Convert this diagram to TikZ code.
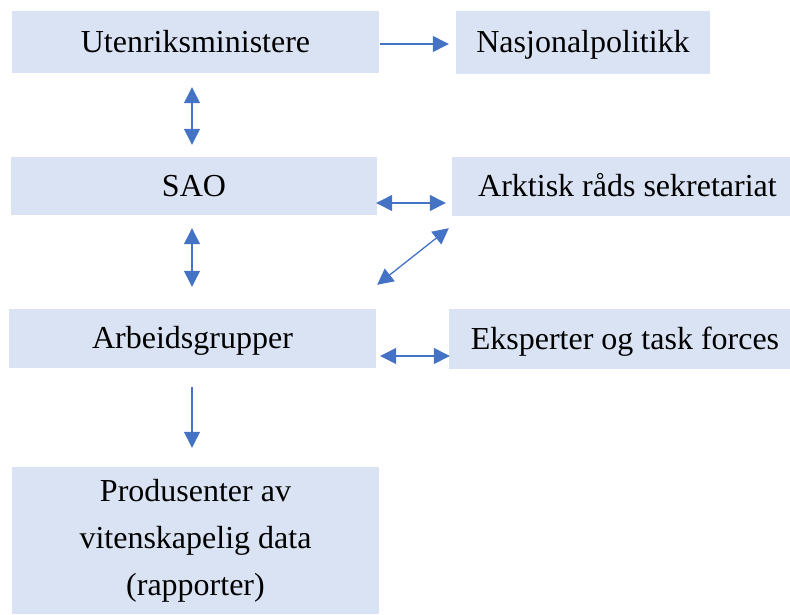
\documentclass[tikz,border=0pt]{standalone}
\usepackage{fontspec}
\setmainfont{Liberation Serif}
\usetikzlibrary{arrows.meta}
\definecolor{boxfill}{HTML}{DAE3F3}
\definecolor{arrowblue}{HTML}{4472C4}
\begin{document}
\begin{tikzpicture}[x=1pt,y=-1pt,
  box/.style={fill=boxfill,draw=none,inner sep=0pt,font=\fontsize{32}{47}\selectfont,text height=22pt,text depth=2pt},
  tallbox/.style={fill=boxfill,draw=none,inner sep=0pt,font=\fontsize{32}{47}\selectfont,align=center},
  conn/.style={draw=arrowblue,line width=1.3pt},
  dbl/.style={conn,{Triangle[length=16pt,width=16pt]}-{Triangle[length=16pt,width=16pt]}},
  sgl/.style={conn,-{Triangle[length=16pt,width=16pt]}}]
\useasboundingbox (0,0) rectangle (790,614);
\clip (0,0) rectangle (790,614);
\node[box,minimum width=367pt,minimum height=62pt] (ut) at (195.5,42) {Utenriksministere};
\node[box,minimum width=254pt,minimum height=63pt] (nas) at (583,42.5) {Nasjonalpolitikk};
\node[box,minimum width=366pt,minimum height=58pt] (sao) at (194,186) {SAO};
\node[box,minimum width=351pt,minimum height=59pt] (ark) at (627.5,186.5) {Arktisk råds sekretariat};
\node[box,minimum width=367pt,minimum height=59pt] (arb) at (192.5,338.5) {Arbeidsgrupper};
\node[box,minimum width=352pt,minimum height=60pt] (eks) at (625,339) {Eksperter og task forces};
\node[tallbox,minimum width=367pt,minimum height=147pt] (prod) at (195.5,540.5) {Produsenter av\\vitenskapelig data\\(rapporter)};
\draw[sgl] ([xshift=1pt,yshift=-2pt]ut.east) -- ([xshift=-7pt,yshift=-1.5pt]nas.west);
\draw[dbl] ([xshift=-3.5pt,yshift=-14pt]ut.south) -- ([xshift=-2pt,yshift=12pt]sao.north);
\draw[dbl] ([xshift=-1pt,yshift=-17pt]sao.east) -- ([xshift=-6pt,yshift=-16.5pt]ark.west);
\draw[dbl] ([xshift=1pt,yshift=24pt]arb.north east) -- ([xshift=-3pt,yshift=-12pt]ark.south west);
\draw[dbl] ([xshift=-2pt,yshift=-13pt]sao.south) -- ([xshift=-0.5pt,yshift=22pt]arb.north);
\draw[dbl] ([xshift=4pt,yshift=-17.5pt]arb.east) -- ([xshift=1pt,yshift=-17pt]eks.west);
\draw[sgl] ([xshift=-0.5pt,yshift=-19pt]arb.south) -- ([xshift=-3.5pt,yshift=19pt]prod.north);
\end{tikzpicture}
\end{document}
